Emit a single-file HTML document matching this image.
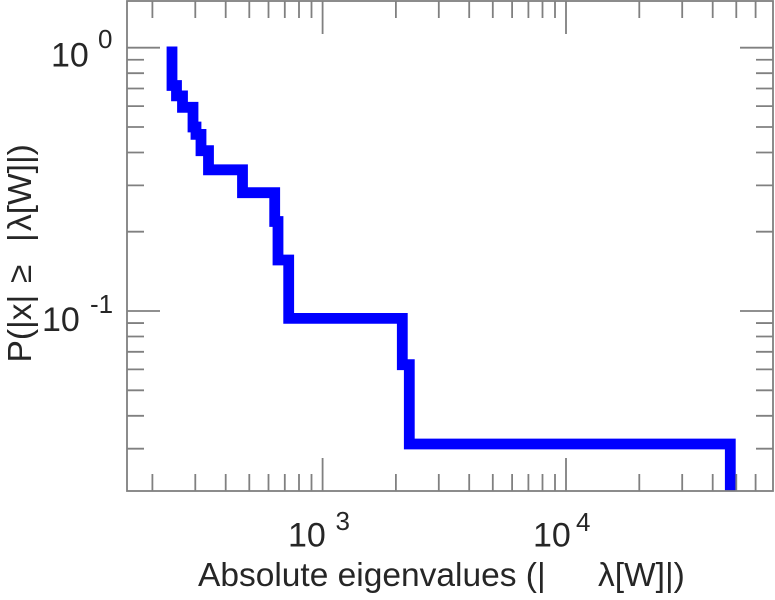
<!DOCTYPE html>
<html>
<head>
<meta charset="utf-8">
<style>
html,body{margin:0;padding:0;background:#fff;}
svg{display:block;}
text{font-family:"Liberation Sans","DejaVu Sans",sans-serif;fill:#262626;}
</style>
</head>
<body>
<svg width="775" height="600" viewBox="0 0 775 600" xmlns="http://www.w3.org/2000/svg">
<rect x="0" y="0" width="775" height="600" fill="#fff"/>
<defs>
<clipPath id="ax"><rect x="127" y="1" width="646" height="490"/></clipPath>
</defs>

<!-- data -->
<path clip-path="url(#ax)" d="M172 46.5 V85.5 H176.5 V95.9 H182.5 V107.3 H193 V127 H196 V134.4 H201 V150.7 H208.5 V169.8 H242.5 V192.7 H274.7 V221.5 H278 V260 H288.7 V318.4 H402.3 V364.7 H409.3 V444 H730.3 V500" fill="none" stroke="#0000ff" stroke-width="10.8" stroke-linejoin="miter" stroke-linecap="butt"/>

<!-- ticks -->
<g stroke="#808080" stroke-width="1.8" fill="none">
<path d="M152.4 491v-17 M195.3 491v-17 M225.7 491v-17 M249.3 491v-17 M268.5 491v-17 M284.8 491v-17 M299 491v-17 M311.5 491v-17 M395.9 491v-17 M438.8 491v-17 M469.2 491v-17 M492.8 491v-17 M512.1 491v-17 M528.4 491v-17 M542.5 491v-17 M555 491v-17 M639.3 491v-17 M682.2 491v-17 M712.7 491v-17 M736.3 491v-17 M755.6 491v-17"/>
<path d="M322.6 491v-33 M566 491v-33"/>
<path d="M152.4 1v17 M195.3 1v17 M225.7 1v17 M249.3 1v17 M268.5 1v17 M284.8 1v17 M299 1v17 M311.5 1v17 M395.9 1v17 M438.8 1v17 M469.2 1v17 M492.8 1v17 M512.1 1v17 M528.4 1v17 M542.5 1v17 M555 1v17 M639.3 1v17 M682.2 1v17 M712.7 1v17 M736.3 1v17 M755.6 1v17"/>
<path d="M322.6 1v33 M566 1v33"/>
<path d="M127 59.75h17 M127 73.2h17 M127 88.5h17 M127 106.1h17 M127 127h17 M127 152.5h17 M127 185.4h17 M127 231.7h17 M127 323.05h17 M127 336.5h17 M127 351.8h17 M127 369.4h17 M127 390.3h17 M127 415.8h17 M127 448.7h17"/>
<path d="M127 47.7h33 M127 311h33"/>
<path d="M773 59.75h-17 M773 73.2h-17 M773 88.5h-17 M773 106.1h-17 M773 127h-17 M773 152.5h-17 M773 185.4h-17 M773 231.7h-17 M773 323.05h-17 M773 336.5h-17 M773 351.8h-17 M773 369.4h-17 M773 390.3h-17 M773 415.8h-17 M773 448.7h-17"/>
<path d="M773 47.7h-33 M773 311h-33"/>
<rect x="127" y="1" width="646" height="490"/>
</g>

<!-- y tick labels -->
<text x="51" y="66.5" font-size="34">10</text>
<text x="98" y="48" font-size="26">0</text>
<text x="42" y="331" font-size="34">10</text>
<text x="90" y="313" font-size="26">-1</text>

<!-- x tick labels -->
<text x="288" y="546.7" font-size="34">10</text>
<text x="335.5" y="530" font-size="26">3</text>
<text x="533" y="546.7" font-size="34">10</text>
<text x="576" y="531" font-size="26">4</text>

<!-- x label -->
<text x="198" y="586" font-size="33.5">Absolute eigenvalues (|</text>
<text x="598" y="586" font-size="33.5">λ[W]|)</text>

<!-- y label -->
<g transform="translate(31,0) rotate(-90)">
<text x="-362.5" y="0" font-size="33.5">P(|x|</text>
<text x="-283" y="0" font-size="33.5">≥</text>
<text x="-242" y="0" font-size="33.5">|</text>
<text x="-231" y="0" font-size="33.5">λ[W]|)</text>
</g>
</svg>
</body>
</html>
